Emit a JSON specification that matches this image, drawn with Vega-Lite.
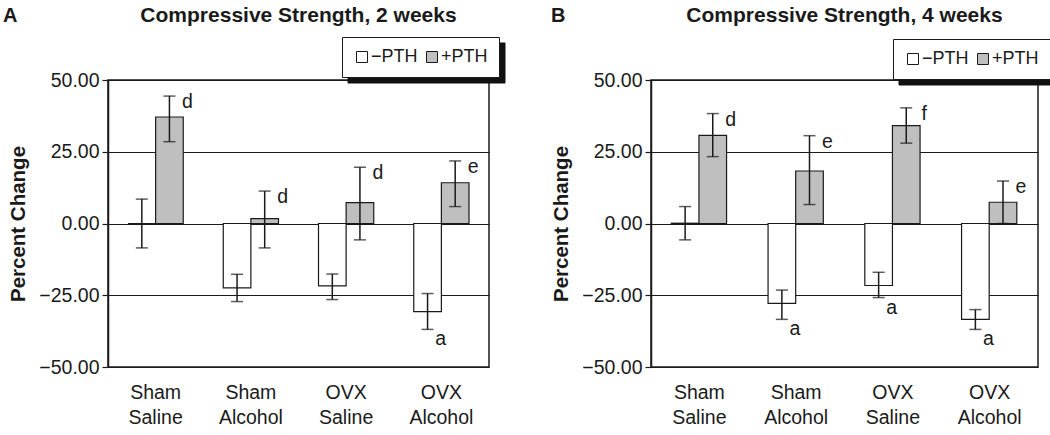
{
  "$schema": "https://vega.github.io/schema/vega-lite/v6.json",
  "background": "white",
  "padding": {"left": 3, "top": 4, "right": 8, "bottom": 0},
  "config": {
    "font": "Liberation Sans",
    "view": {"stroke": "#1a1a1a", "strokeWidth": 1.5},
    "axis": {"labelFont": "Liberation Sans", "labelFontSize": 19.5, "labelColor": "#1a1a1a", "titleFont": "Liberation Sans", "titleFontSize": 20.5, "titleFontWeight": "bold", "titleColor": "#1a1a1a"},
    "title": {"font": "Liberation Sans", "fontSize": 21, "fontWeight": "bold", "color": "#1a1a1a"},
    "legend": {"title": null, "labelFont": "Liberation Sans"}
  },
  "datasets": {
    "bars": [
      {"panel": "A", "group": "Sham Saline", "pth": "\u2212PTH", "value": 0, "lo": -8.5, "hi": 8.5, "letter": ""},
      {"panel": "A", "group": "Sham Saline", "pth": "+PTH", "value": 37.1, "lo": 28.5, "hi": 44.4, "letter": "d"},
      {"panel": "A", "group": "Sham Alcohol", "pth": "\u2212PTH", "value": -22.4, "lo": -27.2, "hi": -17.7, "letter": ""},
      {"panel": "A", "group": "Sham Alcohol", "pth": "+PTH", "value": 1.7, "lo": -8.5, "hi": 11.3, "letter": "d"},
      {"panel": "A", "group": "OVX Saline", "pth": "\u2212PTH", "value": -21.7, "lo": -26.5, "hi": -17.6, "letter": ""},
      {"panel": "A", "group": "OVX Saline", "pth": "+PTH", "value": 7.3, "lo": -5.7, "hi": 19.6, "letter": "d"},
      {"panel": "A", "group": "OVX Alcohol", "pth": "\u2212PTH", "value": -30.7, "lo": -36.9, "hi": -24.4, "letter": "a"},
      {"panel": "A", "group": "OVX Alcohol", "pth": "+PTH", "value": 14.2, "lo": 5.9, "hi": 21.8, "letter": "e"},
      {"panel": "B", "group": "Sham Saline", "pth": "\u2212PTH", "value": 0.1, "lo": -5.7, "hi": 5.9, "letter": ""},
      {"panel": "B", "group": "Sham Saline", "pth": "+PTH", "value": 30.7, "lo": 23.3, "hi": 38.3, "letter": "d"},
      {"panel": "B", "group": "Sham Alcohol", "pth": "\u2212PTH", "value": -27.8, "lo": -33.4, "hi": -23.2, "letter": "a"},
      {"panel": "B", "group": "Sham Alcohol", "pth": "+PTH", "value": 18.3, "lo": 6.6, "hi": 30.6, "letter": "e"},
      {"panel": "B", "group": "OVX Saline", "pth": "\u2212PTH", "value": -21.6, "lo": -25.8, "hi": -17.0, "letter": "a"},
      {"panel": "B", "group": "OVX Saline", "pth": "+PTH", "value": 34.1, "lo": 28.0, "hi": 40.3, "letter": "f"},
      {"panel": "B", "group": "OVX Alcohol", "pth": "\u2212PTH", "value": -33.4, "lo": -36.9, "hi": -30.0, "letter": "a"},
      {"panel": "B", "group": "OVX Alcohol", "pth": "+PTH", "value": 7.4, "lo": 0, "hi": 14.8, "letter": "e"}
    ],
    "keys": [
      {"pth": "\u2212PTH"},
      {"pth": "+PTH"}
    ]
  },
  "spacing": 46,
  "resolve": {"scale": {"fill": "independent", "shape": "independent"}, "legend": {"fill": "independent", "shape": "independent"}},
  "hconcat": [
    {
      "title": {"text": "A", "anchor": "start", "offset": -22, "dx": -5, "fontSize": 20},
      "vconcat": [
        {
          "width": 381,
          "height": 287,
          "title": {"text": "Compressive Strength, 2 weeks", "anchor": "middle", "offset": 44},
          "layer": [
            {
              "data": {"name": "bars"},
              "transform": [{"filter": "datum.panel == 'A'"}],
              "encoding": {
                "x": {"field": "group", "type": "nominal", "sort": ["Sham Saline", "Sham Alcohol", "OVX Saline", "OVX Alcohol"], "scale": {"paddingInner": 0.42, "paddingOuter": 0.21},
                  "axis": {"title": null, "labelAngle": 0, "domain": false, "ticks": false, "labelExpr": "split(datum.label, ' ')", "labelPadding": 16, "labelLineHeight": 25, "labelBaseline": "top"}},
                "xOffset": {"field": "pth", "type": "nominal", "sort": ["\u2212PTH", "+PTH"], "scale": {"paddingInner": 0, "paddingOuter": 0}}
              },
              "layer": [
                {
                  "mark": {"type": "bar", "stroke": "#1a1a1a", "strokeWidth": 1.2},
                  "encoding": {
                    "y": {"field": "value", "type": "quantitative", "scale": {"domain": [-50, 50], "nice": false},
                      "axis": {"title": "Percent Change", "values": [-50, -25, 0, 25, 50], "format": ".2f", "grid": true, "gridColor": "#1a1a1a", "gridWidth": 1.2, "gridOpacity": 1, "domainColor": "#1a1a1a", "domainWidth": 1.5, "tickColor": "#1a1a1a", "tickSize": 6, "tickWidth": 1.2, "labelPadding": 3, "titlePadding": 10}},
                    "fill": {"field": "pth", "type": "nominal", "sort": ["\u2212PTH", "+PTH"], "scale": {"domain": ["\u2212PTH", "+PTH"], "range": ["#ffffff", "#bfbfbf"]},
                      "legend": {"orient": "none", "legendX": 234, "legendY": -43, "direction": "horizontal", "fillColor": "#ffffff", "strokeColor": "#1a1a1a", "padding": 11, "symbolType": "square", "symbolSize": 121, "symbolStrokeColor": "#1a1a1a", "symbolStrokeWidth": 1, "labelFontSize": 18, "labelColor": "#1a1a1a", "labelOffset": 0, "columnPadding": 5, "zindex": 2}}
                  }
                },
                {
                  "mark": {"type": "rule", "color": "#1a1a1a", "strokeWidth": 1.5},
                  "encoding": {"y": {"field": "lo", "type": "quantitative"}, "y2": {"field": "hi"}}
                },
                {
                  "mark": {"type": "tick", "color": "#1a1a1a", "thickness": 1.5, "size": 12},
                  "encoding": {"y": {"field": "lo", "type": "quantitative"}}
                },
                {
                  "mark": {"type": "tick", "color": "#1a1a1a", "thickness": 1.5, "size": 12},
                  "encoding": {"y": {"field": "hi", "type": "quantitative"}}
                },
                {
                  "transform": [{"filter": "datum.letter != '' && datum.pth == '+PTH'"}],
                  "mark": {"type": "text", "align": "center", "baseline": "middle", "dx": 18, "dy": 6, "fontSize": 19.5, "color": "#1a1a1a"},
                  "encoding": {"y": {"field": "hi", "type": "quantitative"}, "text": {"field": "letter"}}
                },
                {
                  "transform": [{"filter": "datum.letter != '' && datum.pth != '+PTH'"}],
                  "mark": {"type": "text", "align": "center", "baseline": "middle", "dx": 13, "dy": 10, "fontSize": 19.5, "color": "#1a1a1a"},
                  "encoding": {"y": {"field": "lo", "type": "quantitative"}, "text": {"field": "letter"}}
                }
              ]
            },
            {
              "data": {"name": "keys"},
              "mark": {"type": "point", "opacity": 0},
              "encoding": {
                "shape": {"field": "pth", "type": "nominal", "sort": ["\u2212PTH", "+PTH"],
                  "legend": {"orient": "none", "legendX": 239.5, "legendY": -37.5, "direction": "horizontal", "fillColor": "#111111", "strokeColor": "#111111", "padding": 11, "symbolType": "square", "symbolSize": 121, "symbolFillColor": "#111111", "symbolStrokeColor": "#111111", "labelFontSize": 18, "labelColor": "#111111", "labelOpacity": 0, "labelOffset": 0, "columnPadding": 5, "zindex": 1}}
              }
            }
          ]
        }
      ]
    },
    {
      "title": {"text": "B", "anchor": "start", "offset": -22, "dx": 0, "fontSize": 20},
      "vconcat": [
        {
          "width": 387,
          "height": 287,
          "title": {"text": "Compressive Strength, 4 weeks", "anchor": "middle", "offset": 44},
          "layer": [
            {
              "data": {"name": "bars"},
              "transform": [{"filter": "datum.panel == 'B'"}],
              "encoding": {
                "x": {"field": "group", "type": "nominal", "sort": ["Sham Saline", "Sham Alcohol", "OVX Saline", "OVX Alcohol"], "scale": {"paddingInner": 0.42, "paddingOuter": 0.21},
                  "axis": {"title": null, "labelAngle": 0, "domain": false, "ticks": false, "labelExpr": "split(datum.label, ' ')", "labelPadding": 16, "labelLineHeight": 25, "labelBaseline": "top"}},
                "xOffset": {"field": "pth", "type": "nominal", "sort": ["\u2212PTH", "+PTH"], "scale": {"paddingInner": 0, "paddingOuter": 0}}
              },
              "layer": [
                {
                  "mark": {"type": "bar", "stroke": "#1a1a1a", "strokeWidth": 1.2},
                  "encoding": {
                    "y": {"field": "value", "type": "quantitative", "scale": {"domain": [-50, 50], "nice": false},
                      "axis": {"title": "Percent Change", "values": [-50, -25, 0, 25, 50], "format": ".2f", "grid": true, "gridColor": "#1a1a1a", "gridWidth": 1.2, "gridOpacity": 1, "domainColor": "#1a1a1a", "domainWidth": 1.5, "tickColor": "#1a1a1a", "tickSize": 6, "tickWidth": 1.2, "labelPadding": 3, "titlePadding": 10}},
                    "fill": {"field": "pth", "type": "nominal", "sort": ["\u2212PTH", "+PTH"], "scale": {"domain": ["\u2212PTH", "+PTH"], "range": ["#ffffff", "#bfbfbf"]},
                      "legend": {"orient": "none", "legendX": 242, "legendY": -41, "direction": "horizontal", "fillColor": "#ffffff", "strokeColor": "#1a1a1a", "padding": 11, "symbolType": "square", "symbolSize": 121, "symbolStrokeColor": "#1a1a1a", "symbolStrokeWidth": 1, "labelFontSize": 18, "labelColor": "#1a1a1a", "labelOffset": 0, "columnPadding": 5, "zindex": 2}}
                  }
                },
                {
                  "mark": {"type": "rule", "color": "#1a1a1a", "strokeWidth": 1.5},
                  "encoding": {"y": {"field": "lo", "type": "quantitative"}, "y2": {"field": "hi"}}
                },
                {
                  "mark": {"type": "tick", "color": "#1a1a1a", "thickness": 1.5, "size": 12},
                  "encoding": {"y": {"field": "lo", "type": "quantitative"}}
                },
                {
                  "mark": {"type": "tick", "color": "#1a1a1a", "thickness": 1.5, "size": 12},
                  "encoding": {"y": {"field": "hi", "type": "quantitative"}}
                },
                {
                  "transform": [{"filter": "datum.letter != '' && datum.pth == '+PTH'"}],
                  "mark": {"type": "text", "align": "center", "baseline": "middle", "dx": 18, "dy": 6, "fontSize": 19.5, "color": "#1a1a1a"},
                  "encoding": {"y": {"field": "hi", "type": "quantitative"}, "text": {"field": "letter"}}
                },
                {
                  "transform": [{"filter": "datum.letter != '' && datum.pth != '+PTH'"}],
                  "mark": {"type": "text", "align": "center", "baseline": "middle", "dx": 13, "dy": 10, "fontSize": 19.5, "color": "#1a1a1a"},
                  "encoding": {"y": {"field": "lo", "type": "quantitative"}, "text": {"field": "letter"}}
                }
              ]
            },
            {
              "data": {"name": "keys"},
              "mark": {"type": "point", "opacity": 0},
              "encoding": {
                "shape": {"field": "pth", "type": "nominal", "sort": ["\u2212PTH", "+PTH"],
                  "legend": {"orient": "none", "legendX": 247.5, "legendY": -35.5, "direction": "horizontal", "fillColor": "#111111", "strokeColor": "#111111", "padding": 11, "symbolType": "square", "symbolSize": 121, "symbolFillColor": "#111111", "symbolStrokeColor": "#111111", "labelFontSize": 18, "labelColor": "#111111", "labelOpacity": 0, "labelOffset": 0, "columnPadding": 5, "zindex": 1}}
              }
            }
          ]
        }
      ]
    }
  ]
}
